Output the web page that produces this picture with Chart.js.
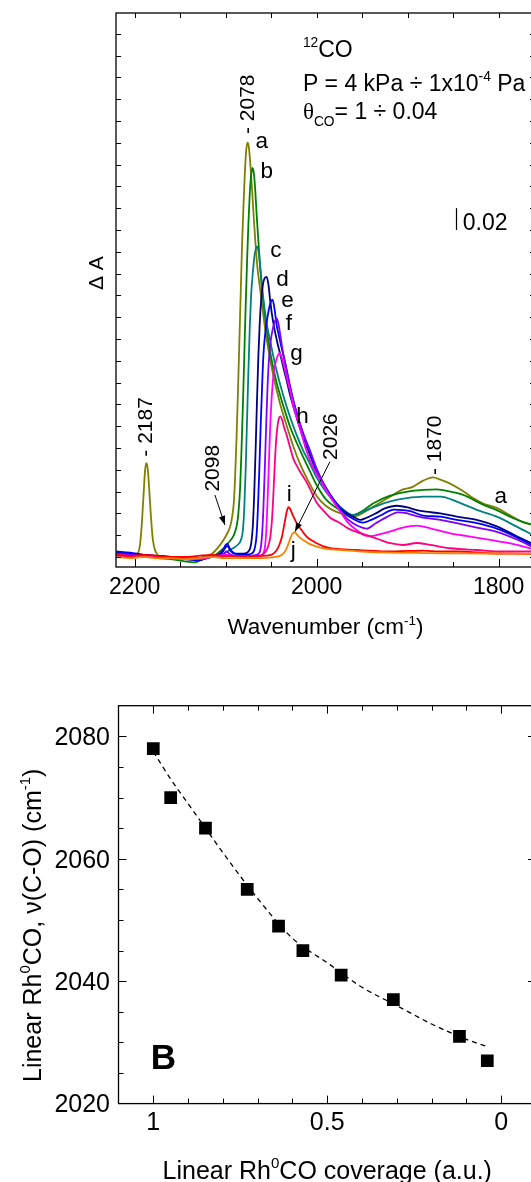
<!DOCTYPE html>
<html><head><meta charset="utf-8">
<script src="https://cdn.jsdelivr.net/npm/chart.js@4.4.1/dist/chart.umd.min.js"></script>
<style>
html,body{margin:0;padding:0;background:#fff;width:531px;height:1182px;overflow:hidden;position:relative}
.wrap{position:absolute;left:0;width:545px}
#wa{top:0;height:645px}
#wb{top:660px;height:522px}
canvas{display:block}
</style></head><body>
<div class="wrap" id="wa"><canvas id="ca" width="545" height="645"></canvas></div>
<div class="wrap" id="wb"><canvas id="cb" width="545" height="522"></canvas></div>
<script>
// ---------- Panel A data: IR spectra (wavenumber cm-1, absorbance) ----------
const seriesLabels = ['a','b','c','d','e','f','g','h','i','j'];
const spectrumA = [[2220,0.003],[2205,0.002],[2197,0.003],[2194,0.012],[2192,0.032],[2190,0.06],[2188.5,0.08],[2187,0.086],[2185.5,0.08],[2184,0.062],[2182,0.036],[2180,0.016],[2177,0.005],[2173,0.001],[2165,0.0],[2150,-0.001],[2135,-0.002],[2125,0.0],[2115,0.003],[2108,0.009],[2102,0.016],[2098,0.022],[2095,0.028],[2093,0.036],[2091,0.05],[2089.5,0.075],[2088,0.11],[2086.5,0.15],[2085,0.195],[2083.5,0.24],[2082,0.285],[2080.5,0.32],[2079,0.35],[2077.5,0.372],[2076,0.38],[2074.5,0.376],[2073,0.362],[2071,0.338],[2069,0.31],[2067,0.285],[2065,0.265],[2062,0.245],[2058,0.218],[2054,0.195],[2048,0.168],[2040,0.14],[2032,0.118],[2025,0.1],[2018,0.085],[2010,0.071],[2000,0.056],[1990,0.047],[1980,0.042],[1970,0.039],[1960,0.037],[1950,0.04],[1938,0.046],[1920,0.055],[1905,0.062],[1895,0.064],[1883,0.07],[1872,0.073],[1864,0.071],[1855,0.068],[1840,0.061],[1828,0.054],[1817,0.049],[1802,0.045],[1785,0.037],[1773,0.032],[1760,0.029]];
const spectrumB = [[2220,0.001],[2205,0.0],[2190,0.001],[2175,-0.001],[2160,-0.002],[2145,-0.004],[2135,-0.005],[2125,-0.002],[2115,0.0],[2108,0.004],[2102,0.008],[2098,0.012],[2094,0.016],[2091,0.02],[2088,0.028],[2086,0.04],[2084,0.065],[2082.5,0.1],[2081,0.14],[2079.5,0.185],[2078,0.23],[2076.5,0.27],[2075,0.305],[2073.5,0.333],[2072,0.35],[2070.5,0.357],[2069,0.352],[2067.5,0.337],[2066,0.315],[2064,0.29],[2062,0.265],[2059,0.237],[2055,0.21],[2050,0.183],[2044,0.16],[2036,0.137],[2029,0.119],[2022,0.105],[2015,0.092],[2007,0.078],[2000,0.066],[1990,0.053],[1980,0.046],[1970,0.041],[1960,0.0385],[1950,0.042],[1938,0.049],[1920,0.056],[1900,0.06],[1883,0.0615],[1868,0.062],[1853,0.06],[1839,0.057],[1817,0.048],[1802,0.043],[1785,0.036],[1773,0.032],[1760,0.029]];
const spectrumC = [[2220,0.002],[2205,0.001],[2190,0.0],[2175,0.0],[2160,-0.001],[2145,-0.002],[2130,-0.001],[2115,0.0],[2105,0.002],[2098,0.005],[2092,0.008],[2087,0.011],[2083,0.016],[2081,0.025],[2079.5,0.045],[2078,0.08],[2076.5,0.125],[2075,0.17],[2073.5,0.21],[2072,0.24],[2070,0.262],[2068,0.278],[2065.5,0.285],[2063.5,0.278],[2061.5,0.262],[2059,0.24],[2055,0.215],[2051,0.198],[2046,0.178],[2040,0.158],[2033,0.138],[2029,0.128],[2022,0.112],[2015,0.098],[2007,0.085],[2000,0.073],[1990,0.06],[1980,0.05],[1970,0.043],[1960,0.0385],[1950,0.041],[1938,0.0455],[1920,0.0508],[1901,0.054],[1883,0.0554],[1864,0.0554],[1846,0.0508],[1824,0.0432],[1802,0.037],[1780,0.0278],[1760,0.019]];
const spectrumD = [[2220,0.004],[2205,0.003],[2190,0.002],[2175,0.001],[2160,0.0],[2145,-0.002],[2130,-0.003],[2118,0.0],[2108,0.002],[2103,0.005],[2100,0.009],[2098,0.01],[2095,0.006],[2090,0.003],[2080,0.003],[2075,0.005],[2072,0.012],[2070,0.03],[2068.5,0.06],[2067,0.1],[2065.5,0.145],[2064,0.185],[2062.5,0.215],[2061,0.235],[2059,0.25],[2057,0.256],[2055,0.257],[2053,0.25],[2051,0.235],[2049,0.222],[2047,0.212],[2043,0.196],[2040,0.186],[2036,0.172],[2033,0.162],[2029,0.148],[2022,0.128],[2015,0.11],[2007,0.093],[2000,0.078],[1990,0.063],[1980,0.051],[1970,0.042],[1960,0.037],[1952,0.034],[1945,0.036],[1935,0.04],[1925,0.0445],[1912,0.047],[1900,0.0455],[1890,0.043],[1880,0.0415],[1864,0.04],[1846,0.037],[1824,0.034],[1802,0.028],[1780,0.019],[1760,0.011]];
const spectrumE = [[2220,0.005],[2205,0.004],[2190,0.002],[2175,0.001],[2160,0.0],[2145,-0.001],[2130,-0.003],[2118,0.0],[2108,0.002],[2103,0.006],[2100,0.011],[2098,0.012],[2095,0.007],[2090,0.003],[2080,0.002],[2072,0.003],[2068,0.008],[2066,0.02],[2064.5,0.045],[2063,0.08],[2061.5,0.12],[2060,0.155],[2058.5,0.185],[2056.5,0.205],[2054,0.22],[2051.5,0.231],[2048.5,0.236],[2046,0.226],[2044,0.213],[2042,0.205],[2038,0.19],[2034,0.176],[2029,0.156],[2022,0.132],[2015,0.114],[2007,0.096],[2000,0.08],[1990,0.064],[1980,0.051],[1970,0.041],[1960,0.035],[1949,0.0315],[1940,0.034],[1930,0.038],[1915,0.0435],[1905,0.043],[1897,0.042],[1883,0.038],[1864,0.037],[1846,0.034],[1824,0.031],[1802,0.026],[1780,0.018],[1760,0.009]];
const spectrumF = [[2220,0.003],[2205,0.002],[2190,0.001],[2175,0.0],[2160,0.0],[2145,-0.001],[2130,-0.002],[2118,0.0],[2108,0.001],[2102,0.003],[2099,0.005],[2096,0.003],[2090,0.001],[2075,0.001],[2066,0.002],[2062,0.006],[2060,0.02],[2058.5,0.045],[2057,0.08],[2055.5,0.12],[2054,0.155],[2052.5,0.18],[2050.5,0.198],[2048,0.21],[2046,0.216],[2044,0.219],[2042,0.214],[2040,0.204],[2038,0.193],[2034.5,0.177],[2031,0.162],[2027,0.147],[2022,0.133],[2016.5,0.117],[2007,0.097],[2000,0.081],[1990,0.063],[1980,0.049],[1970,0.038],[1960,0.031],[1950,0.027],[1945,0.026],[1935,0.031],[1922,0.037],[1911,0.041],[1900,0.04],[1897,0.039],[1883,0.036],[1864,0.034],[1846,0.031],[1824,0.027],[1802,0.023],[1780,0.016],[1760,0.008]];
const spectrumG = [[2220,0.002],[2205,0.001],[2190,0.0],[2175,0.0],[2160,0.0],[2145,-0.001],[2130,-0.002],[2115,0.0],[2100,0.002],[2080,0.0],[2065,0.0],[2060,0.002],[2057,0.008],[2055.5,0.022],[2054,0.05],[2052.5,0.085],[2051,0.12],[2049.5,0.145],[2048,0.162],[2046,0.175],[2043.5,0.183],[2040.5,0.187],[2038,0.182],[2035.5,0.174],[2033,0.165],[2029,0.152],[2025.5,0.138],[2022,0.128],[2018,0.117],[2011,0.097],[2007,0.088],[2000,0.076],[1993,0.066],[1985,0.055],[1975,0.043],[1965,0.031],[1955,0.024],[1948,0.02],[1941,0.019],[1930,0.021],[1919,0.0235],[1905,0.027],[1890,0.0287],[1875,0.0263],[1853,0.0217],[1831,0.0187],[1809,0.0156],[1787,0.0125],[1760,0.007]];
const spectrumH = [[2220,0.001],[2205,0.0],[2190,0.001],[2175,0.0],[2160,0.0],[2145,-0.001],[2130,-0.001],[2115,0.0],[2100,0.001],[2080,0.001],[2065,0.001],[2058,0.003],[2054,0.008],[2051,0.018],[2049,0.035],[2047.5,0.058],[2046,0.085],[2044.5,0.107],[2043,0.12],[2041.5,0.127],[2040,0.129],[2038,0.126],[2035.5,0.118],[2033,0.112],[2029,0.1],[2025.5,0.09],[2022,0.084],[2018,0.078],[2012,0.07],[2007,0.062],[2000,0.05],[1993,0.043],[1985,0.036],[1974,0.031],[1965,0.026],[1956,0.023],[1945,0.02],[1938,0.018],[1928,0.015],[1919,0.0126],[1905,0.011],[1890,0.0128],[1875,0.011],[1853,0.008],[1824,0.0064],[1795,0.005],[1760,0.005]];
const spectrumI = [[2220,0.002],[2205,0.001],[2190,0.002],[2175,0.001],[2160,0.0],[2145,0.0],[2130,0.001],[2115,0.002],[2100,0.001],[2080,0.001],[2060,0.001],[2050,0.002],[2045,0.005],[2041,0.011],[2038,0.019],[2035.5,0.03],[2033,0.041],[2031,0.0456],[2029.4,0.0444],[2026,0.038],[2022,0.031],[2016,0.024],[2011,0.0187],[2005,0.015],[2000,0.0126],[1993,0.01],[1985,0.008],[1970,0.007],[1956,0.0064],[1935,0.0055],[1919,0.005],[1900,0.0055],[1883,0.0058],[1865,0.005],[1846,0.005],[1810,0.0034],[1785,0.003],[1760,0.0028]];
const spectrumJ = [[2220,0.0],[2205,-0.001],[2190,0.0],[2175,-0.001],[2160,-0.001],[2145,-0.002],[2130,-0.001],[2115,0.0],[2100,-0.001],[2080,-0.001],[2060,-0.001],[2045,0.0],[2038,0.002],[2034,0.006],[2031,0.012],[2028.5,0.018],[2026,0.022],[2024,0.0223],[2021,0.02],[2018,0.0175],[2014.7,0.0156],[2008,0.012],[2000,0.0095],[1990,0.0075],[1974,0.0064],[1950,0.005],[1920,0.004],[1880,0.0036],[1850,0.0034],[1810,0.0032],[1785,0.003],[1760,0.0028]];
const wavenumberTickLabels = [2200, 2000, 1800];
const wavenumberTicks = [2200, 2150, 2100, 2050, 2000, 1950, 1900, 1850, 1800];
const absorbanceTicks = [0, 0.02, 0.04, 0.06, 0.08, 0.10, 0.12, 0.14, 0.16, 0.18, 0.20, 0.22, 0.24, 0.26, 0.28, 0.30, 0.32, 0.34, 0.36, 0.38, 0.40, 0.42, 0.44, 0.46, 0.48];

// ---------- Panel B data ----------
const coverage = [1.0, 0.95, 0.85, 0.73, 0.64, 0.57, 0.46, 0.31, 0.12, 0.04];
const frequency = [2078, 2070, 2065, 2055, 2049, 2045, 2041, 2037, 2031, 2027];
const fitCoverage = [1.0, 0.95, 0.9, 0.85, 0.8, 0.7, 0.6, 0.5, 0.4, 0.3, 0.2, 0.1, 0.04];
const fitFrequency = [2077.5, 2073, 2069, 2065, 2061, 2053.5, 2047, 2043, 2039, 2036, 2033, 2030.5, 2029.3];
const coverageTickLabels = [1, 0.5, 0];
const coverageTicks = [1, 0.9, 0.8, 0.7, 0.6, 0.5, 0.4, 0.3, 0.2, 0.1, 0];
const frequencyTickLabels = [2020, 2040, 2060, 2080];
const frequencyTicks = [2025, 2030, 2035, 2040, 2045, 2050, 2055, 2060, 2065, 2070, 2075, 2080];

// ---------- styles ----------
const seriesColors = ['#808000','#008000','#008080','#000080','#0000FF','#8000FF','#FF00FF','#FF0080','#FF0000','#FF8000'];
const FONT = '"Liberation Sans", Arial, Helvetica, sans-serif';
const SERIF = '"Liberation Serif", "Times New Roman", serif';

function segFont(s, size){ const fs = (s.sup||s.sub) ? size*0.6 : size; return (s.bold?'bold ':'') + fs.toFixed(1) + 'px ' + (s.serif?SERIF:FONT); }
function richWidth(ctx, segs, size){ let w=0; for(const s of segs){ ctx.font=segFont(s,size); w+=ctx.measureText(s.t).width; } return w; }
function drawRich(ctx, segs, x, y, size, align, rot){
  ctx.save(); ctx.translate(x,y); if(rot) ctx.rotate(rot);
  const w = richWidth(ctx, segs, size);
  let cx = align==='center' ? -w/2 : (align==='right' ? -w : 0);
  ctx.textBaseline='alphabetic'; ctx.textAlign='left'; ctx.fillStyle='#000';
  for(const s of segs){ ctx.font=segFont(s,size); const dy = s.sup ? -size*0.42 : (s.sub ? size*0.28 : 0); ctx.fillText(s.t, cx, dy); cx += ctx.measureText(s.t).width; }
  ctx.restore();
}
function arrow(ctx, x0, y0, x1, y1){
  ctx.save(); ctx.strokeStyle='#000'; ctx.fillStyle='#000'; ctx.lineWidth=1;
  ctx.beginPath(); ctx.moveTo(x0,y0); ctx.lineTo(x1,y1); ctx.stroke();
  const ang = Math.atan2(y1-y0, x1-x0), L=9, W=3.2;
  ctx.beginPath(); ctx.moveTo(x1,y1);
  ctx.lineTo(x1 - L*Math.cos(ang) + W*Math.sin(ang), y1 - L*Math.sin(ang) - W*Math.cos(ang));
  ctx.lineTo(x1 - L*Math.cos(ang) - W*Math.sin(ang), y1 - L*Math.sin(ang) + W*Math.cos(ang));
  ctx.closePath(); ctx.fill(); ctx.restore();
}

// annotation placement (data coordinates)
const curveLetterPos = [[2060.4,0.375],[2054.9,0.3474],[2044.9,0.275],[2037.6,0.2486],[2032.1,0.2296],[2030.4,0.2083],[2022.0,0.1807],[2015.6,0.1229],[2030.2,0.0517],[2025.7,0.0]];
const peakNotes = [
  {t:'- 2078', wn:2068.9, a:0.388},
  {t:'- 2187', wn:2180.4, a:0.092},
  {t:'2098', wn:2107.4, a:0.060},
  {t:'2026', wn:1977.1, a:0.089},
  {t:'- 1870', wn:1862.9, a:0.0752}
];

const panelA = {
  id:'panelA',
  afterDraw(chart){
    const {ctx, chartArea:ca, scales:{x,y}} = chart;
    const X = v=>x.getPixelForValue(v), Y = v=>y.getPixelForValue(v);
    ctx.save();
    ctx.strokeStyle='#000'; ctx.lineWidth=1.3;
    ctx.strokeRect(ca.left, ca.top, ca.right-ca.left, ca.bottom-ca.top);
    ctx.lineWidth=1; ctx.beginPath();
    for(const v of wavenumberTicks){ const px=Math.round(X(v))+0.5; const L = wavenumberTickLabels.includes(v)?8:5;
      ctx.moveTo(px, ca.bottom); ctx.lineTo(px, ca.bottom-L); ctx.moveTo(px, ca.top); ctx.lineTo(px, ca.top+5); }
    for(const v of absorbanceTicks){ const py=Math.round(Y(v))+0.5;
      ctx.moveTo(ca.left, py); ctx.lineTo(ca.left+5, py); ctx.moveTo(ca.right, py); ctx.lineTo(ca.right-5, py); }
    ctx.stroke();
    for(const v of wavenumberTickLabels) drawRich(ctx, [{t:String(v)}], X(v), ca.bottom+27, 23, 'center');
    drawRich(ctx, [{t:'Wavenumber (cm'},{t:'-1',sup:true},{t:')'}], (ca.left+ca.right)/2, ca.bottom+67, 22.5, 'center');
    drawRich(ctx, [{t:'Δ A'}], 103, 290, 21, 'left', -Math.PI/2);
    // curve letters
    curveLetterPos.forEach((p,i)=> drawRich(ctx, [{t:seriesLabels[i]}], X(p[0]), Y(p[1]), 22.5, 'center'));
    drawRich(ctx, [{t:'a'}], X(1797.7), Y(0.0498), 22.5, 'center');
    // peak position labels (rotated)
    for(const n of peakNotes) drawRich(ctx, [{t:n.t}], X(n.wn), Y(n.a), 21, 'left', -Math.PI/2);
    // conditions text
    drawRich(ctx, [{t:'12',sup:true},{t:'CO'}], X(2015.1), Y(0.459), 23, 'left');
    drawRich(ctx, [{t:'P = 4 kPa ÷ 1x10'},{t:'-4',sup:true},{t:' Pa'}], X(2015.1), Y(0.4278), 23, 'left');
    drawRich(ctx, [{t:'θ',serif:true},{t:'CO',sub:true},{t:'= 1 ÷ 0.04'}], X(2015.1), Y(0.4015), 23, 'left');
    // scale bar
    ctx.lineWidth=1.2; ctx.beginPath(); ctx.moveTo(Math.round(X(1847))+0.5, Y(0.300)); ctx.lineTo(Math.round(X(1847))+0.5, Y(0.320)); ctx.stroke();
    drawRich(ctx, [{t:'0.02'}], X(1839.4), Y(0.300), 23, 'left');
    // arrows
    arrow(ctx, X(2111.8), Y(0.0569), X(2100.8), Y(0.0294));
    arrow(ctx, X(1985.4), Y(0.0874), X(2023.8), Y(0.0232));
    ctx.restore();
  }
};

const spectra = [spectrumA, spectrumB, spectrumC, spectrumD, spectrumE, spectrumF, spectrumG, spectrumH, spectrumI, spectrumJ];
new Chart(document.getElementById('ca'), {
  type:'line',
  data:{ datasets: spectra.map((s,i)=>({
    label: seriesLabels[i], data: s.map(([wn,a])=>({x:wn, y:a})),
    borderColor: seriesColors[i], borderWidth:1.8, pointRadius:0, fill:false,
    cubicInterpolationMode:'monotone', order: 10-i
  }))},
  options:{
    responsive:false, animation:false, events:[], devicePixelRatio:1,
    layout:{padding:{left:116, top:13, right:10, bottom:78}},
    plugins:{legend:{display:false}, tooltip:{enabled:false}},
    scales:{
      x:{type:'linear', reverse:true, min:1760, max:2220.5, display:false},
      y:{type:'linear', min:-0.0092, max:0.499, display:false}
    }
  },
  plugins:[panelA]
});

const panelB = {
  id:'panelB',
  afterDraw(chart){
    const {ctx, chartArea:ca, scales:{x,y}} = chart;
    const X = v=>x.getPixelForValue(v), Y = v=>y.getPixelForValue(v);
    ctx.save();
    ctx.strokeStyle='#000'; ctx.lineWidth=1.3;
    ctx.strokeRect(ca.left, ca.top, ca.right-ca.left, ca.bottom-ca.top);
    ctx.lineWidth=1; ctx.beginPath();
    for(const v of coverageTicks){ const px=Math.round(X(v))+0.5; const L = coverageTickLabels.includes(v)?8:5;
      ctx.moveTo(px, ca.bottom); ctx.lineTo(px, ca.bottom-L); ctx.moveTo(px, ca.top); ctx.lineTo(px, ca.top+L); }
    for(const v of frequencyTicks){ const py=Math.round(Y(v))+0.5; const L = frequencyTickLabels.includes(v)?8:5;
      ctx.moveTo(ca.left, py); ctx.lineTo(ca.left+L, py); ctx.moveTo(ca.right, py); ctx.lineTo(ca.right-L, py); }
    ctx.stroke();
    for(const v of coverageTickLabels) drawRich(ctx, [{t:String(v)}], X(v), ca.bottom+26, 25, 'center');
    for(const v of frequencyTickLabels) drawRich(ctx, [{t:String(v)}], ca.left-8.5, Y(v)+8.8, 25, 'right');
    drawRich(ctx, [{t:'Linear Rh'},{t:'0',sup:true},{t:'CO coverage (a.u.)'}], (ca.left+ca.right)/2, ca.bottom+75, 25, 'center');
    drawRich(ctx, [{t:'Linear Rh'},{t:'0',sup:true},{t:'CO, ν(C-O) (cm'},{t:'-1',sup:true},{t:')'}], 40.6, 422, 25, 'left', -Math.PI/2);
    drawRich(ctx, [{t:'B',bold:true}], X(1.007), Y(2025.7), 35, 'left');
    ctx.restore();
  }
};

new Chart(document.getElementById('cb'), {
  type:'line',
  data:{ datasets:[
    { label:'data', data: coverage.map((c,i)=>({x:c, y:frequency[i]})), showLine:false,
      pointStyle:'rect', pointRadius:9, pointBackgroundColor:'#000', pointBorderColor:'#000', pointBorderWidth:0, order:1 },
    { label:'fit', data: fitCoverage.map((c,i)=>({x:c, y:fitFrequency[i]})), borderColor:'#000', borderWidth:1.3,
      borderDash:[5,4], pointRadius:0, fill:false, cubicInterpolationMode:'monotone', order:2 }
  ]},
  options:{
    responsive:false, animation:false, events:[], devicePixelRatio:1,
    layout:{padding:{left:118.5, top:45.7, right:8, bottom:78.4}},
    plugins:{legend:{display:false}, tooltip:{enabled:false}},
    scales:{
      x:{type:'linear', reverse:true, min:-0.1, max:1.1, display:false},
      y:{type:'linear', min:2020, max:2085, display:false}
    }
  },
  plugins:[panelB]
});
</script>
</body></html>
